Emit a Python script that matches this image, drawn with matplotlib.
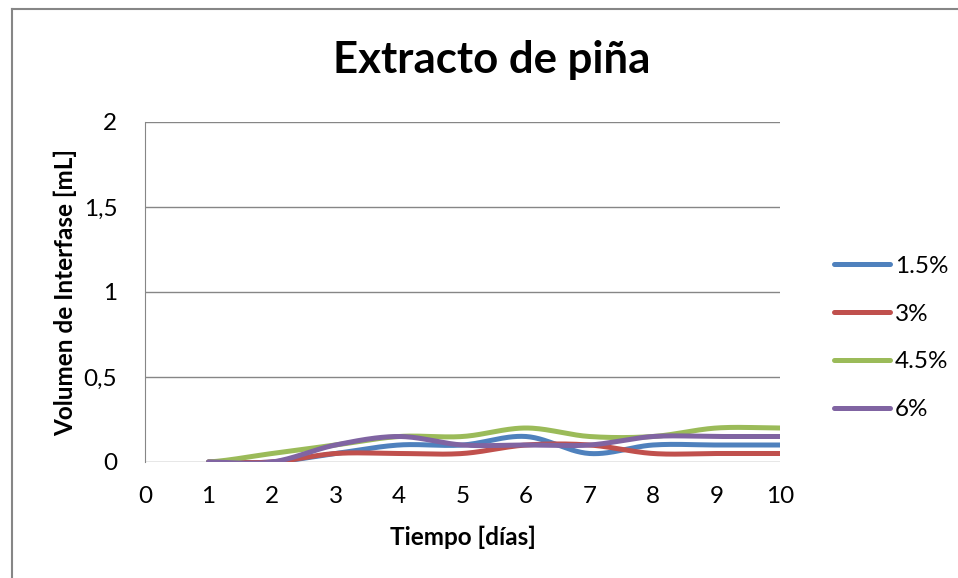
import numpy as np
import matplotlib.pyplot as plt
from matplotlib.lines import Line2D

plt.rcParams['font.family'] = ['Lato', 'DejaVu Sans']

dias = [1, 2, 3, 4, 5, 6, 7, 8, 9, 10]
serie_15 = [0, 0, 0.05, 0.1, 0.1, 0.15, 0.05, 0.1, 0.1, 0.1]
serie_3 = [0, 0, 0.05, 0.05, 0.05, 0.1, 0.1, 0.05, 0.05, 0.05]
serie_45 = [0, 0.05, 0.1, 0.15, 0.15, 0.2, 0.15, 0.15, 0.2, 0.2]
serie_6 = [0, 0, 0.1, 0.15, 0.1, 0.1, 0.1, 0.15, 0.15, 0.15]
etiquetas = ['1.5%', '3%', '4.5%', '6%']
colores = ['#4F81BD', '#C0504D', '#9BBB59', '#8064A2']


def suavizar(x, y, n=30):
    # curva tipo Catmull-Rom que pasa por todos los puntos
    x = np.asarray(x, float)
    y = np.asarray(y, float)
    px = np.concatenate([[2 * x[0] - x[1]], x, [2 * x[-1] - x[-2]]])
    py = np.concatenate([[y[0]], y, [y[-1]]])
    xs, ys = [], []
    t = np.linspace(0, 1, n)
    for i in range(1, len(px) - 2):
        for p, out in ((px, xs), (py, ys)):
            p0, p1, p2, p3 = p[i - 1], p[i], p[i + 1], p[i + 2]
            c = 0.5 * ((2 * p1) + (-p0 + p2) * t
                       + (2 * p0 - 5 * p1 + 4 * p2 - p3) * t ** 2
                       + (-p0 + 3 * p1 - 3 * p2 + p3) * t ** 3)
            out.extend(c)
    return np.array(xs), np.array(ys)


fig = plt.figure(figsize=(9.58, 5.78), dpi=100)
ax = fig.add_axes([145 / 958, 1 - 462 / 578, 635 / 958, 340 / 578])

for datos, etiqueta, color in zip([serie_15, serie_3, serie_45, serie_6], etiquetas, colores):
    xs, ys = suavizar(dias, datos)
    ax.plot(xs, ys, color=color, lw=3.6, solid_capstyle='round', label=etiqueta, zorder=3)

ax.set_xlim(0, 10)
ax.set_ylim(0, 2)
ax.set_xticks(range(0, 11))
ax.set_yticks([0, 0.5, 1, 1.5, 2])
ax.set_yticklabels(['0', '0,5', '1', '1,5', '2'])
ax.tick_params(length=0, labelsize=17.5, colors='black')
ax.tick_params(axis='x', pad=17)
ax.tick_params(axis='y', pad=20)
ax.grid(axis='y', color='#868686', lw=1)
ax.set_axisbelow(True)
for s in ['top', 'right', 'bottom']:
    ax.spines[s].set_visible(False)
ax.spines['left'].set_color('#868686')

ax.set_xlabel('Tiempo [días]', fontsize=17.5, fontweight='bold', labelpad=14)
ax.set_ylabel('Volumen de Interfase [mL]', fontsize=17.5, fontweight='bold', labelpad=5)
fig.text(492 / 958, 1 - 60 / 578, 'Extracto de piña', fontsize=31.5, fontweight='bold',
         ha='center', va='center')

leyenda = [Line2D([0], [0], color=c, lw=3.6, solid_capstyle='round') for c in colores]
fig.legend(leyenda, etiquetas, loc='center left', bbox_to_anchor=(812 / 958, 1 - 338 / 578),
           frameon=False, fontsize=17.5, handlelength=2.3, handletextpad=0.2, labelspacing=1.1)

# borde exterior del gráfico
fig.add_artist(Line2D([12 / 958, 12 / 958], [0, 1 - 9 / 578], color='#868686', lw=1.5))
fig.add_artist(Line2D([12 / 958, 1], [1 - 9 / 578, 1 - 9 / 578], color='#868686', lw=1.5))

fig.savefig('out.png', dpi=100)
